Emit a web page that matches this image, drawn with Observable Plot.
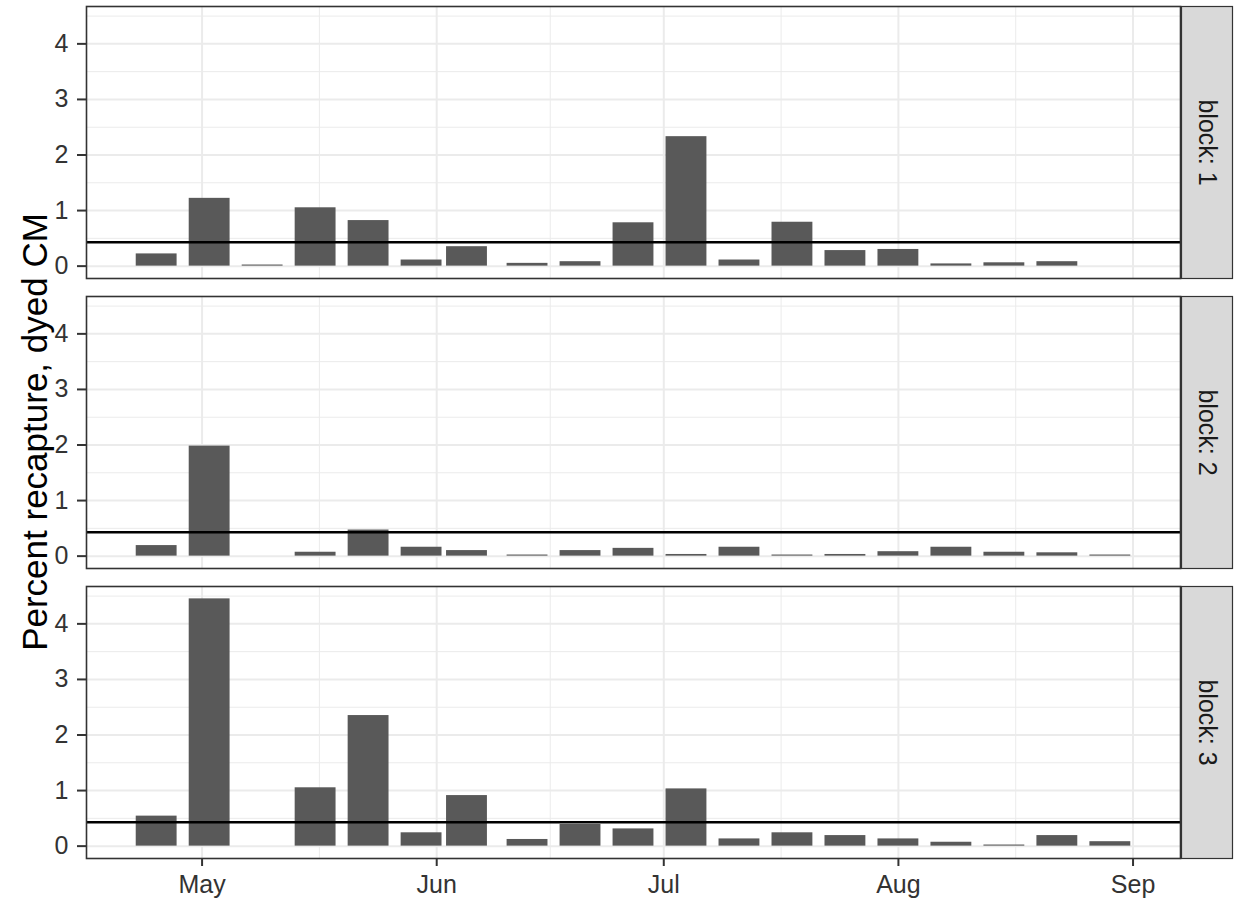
<!DOCTYPE html>
<html>
<head>
<meta charset="utf-8">
<script src="https://cdn.jsdelivr.net/npm/d3@7"></script>
<script src="https://cdn.jsdelivr.net/npm/@observablehq/plot@0.6"></script>
<style>
  html, body { margin: 0; padding: 0; background: #fff; }
  #wrap { position: relative; width: 1235px; height: 904px; font-family: "Liberation Sans", Arial, sans-serif; }
  #ytitle { position: absolute; left: 35px; top: 432px; transform: translate(-50%, -50%) rotate(-90deg); white-space: nowrap; font-size: 35px; line-height: normal; color: #000; z-index: 2; }
  svg { display: block; }
</style>
</head>
<body>
<div id="wrap"><div id="ytitle">Percent recapture, dyed CM</div></div>
<script>
// Sampling dates (weekly), values per block (percent recapture), overall mean line
const dates = ["2019-04-25","2019-05-02","2019-05-09","2019-05-16","2019-05-23","2019-05-30","2019-06-05","2019-06-13","2019-06-20","2019-06-27","2019-07-04","2019-07-11","2019-07-18","2019-07-25","2019-08-01","2019-08-08","2019-08-15","2019-08-22","2019-08-29"];
const block1 = [0.22, 1.22, 0.02, 1.05, 0.82, 0.11, 0.35, 0.05, 0.08, 0.78, 2.33, 0.11, 0.79, 0.28, 0.30, 0.04, 0.06, 0.08, null];
const block2 = [0.19, 1.98, null, 0.07, 0.47, 0.16, 0.10, 0.02, 0.10, 0.14, 0.03, 0.16, 0.02, 0.03, 0.08, 0.16, 0.07, 0.06, 0.02];
const block3 = [0.54, 4.45, null, 1.05, 2.35, 0.24, 0.91, 0.12, 0.39, 0.31, 1.03, 0.13, 0.24, 0.19, 0.13, 0.07, 0.02, 0.19, 0.08];
const blocks = [1, 2, 3];
const overallLine = [0.43];
const monthTicks = ["2019-05-01","2019-06-01","2019-07-01","2019-08-01","2019-09-01"];
const yTicks = [0, 1, 2, 3, 4];
const yMinor = [0.5, 1.5, 2.5, 3.5, 4.5];

const DAY = 864e5;
const halfWidth = 2.7 * DAY; // 0.9 * 6-day resolution / 2
const series = [block1, block2, block3];
const rows = [];
series.forEach((vals, bi) => {
  vals.forEach((v, i) => {
    if (v != null) rows.push({date: new Date(dates[i] + "T00:00:00Z"), value: v, block: blocks[bi]});
  });
});
const majorX = monthTicks.map(s => new Date(s + "T00:00:00Z"));
const minorX = majorX.slice(0, -1).map((d, i) => new Date((+d + +majorX[i + 1]) / 2));

// ggplot-like 5% expansion
const xmin = d3.min(rows, d => +d.date) - halfWidth;
const xmax = d3.max(rows, d => +d.date) + halfWidth;
const xpad = (xmax - xmin) * 0.05;
const ymax = d3.max(rows, d => d.value);
const ypad = ymax * 0.05;

const W = 1235, H = 904, ML = 86, MR = 55, MT = 5, MB = 45;
const plotW = W - ML - MR;

const chart = Plot.plot({
  width: W,
  height: H,
  marginLeft: ML,
  marginRight: MR,
  marginTop: MT,
  marginBottom: MB,
  style: {fontFamily: '"Liberation Sans", Arial, sans-serif', background: "transparent"},
  x: {type: "utc", domain: [new Date(xmin - xpad), new Date(xmax + xpad)]},
  y: {domain: [-ypad, ymax + ypad]},
  fy: {domain: blocks, axis: null, paddingInner: 0.062, paddingOuter: 0, label: null},
  marks: [
    Plot.gridY(yMinor, {stroke: "#ebebeb", strokeOpacity: 1, strokeWidth: 1}),
    Plot.gridX(minorX, {stroke: "#ebebeb", strokeOpacity: 1, strokeWidth: 1}),
    Plot.gridY(yTicks, {stroke: "#ebebeb", strokeOpacity: 1, strokeWidth: 2}),
    Plot.gridX(majorX, {stroke: "#ebebeb", strokeOpacity: 1, strokeWidth: 2}),
    Plot.rectY(rows, {
      x1: d => new Date(+d.date - halfWidth),
      x2: d => new Date(+d.date + halfWidth),
      y1: 0,
      y2: "value",
      fy: "block",
      fill: "#595959"
    }),
    Plot.ruleY(overallLine, {stroke: "#000", strokeWidth: 2.5}),
    Plot.frame({stroke: "#333", strokeWidth: 1.6}),
    Plot.frame({fill: "#d9d9d9", stroke: "#333", strokeWidth: 1.2, insetLeft: plotW + 1, insetRight: -(MR - 3)}),
    Plot.text(blocks, {fy: d => d, text: d => `block: ${d}`, frameAnchor: "right", dx: (MR - 2) / 2, rotate: 90, textAnchor: "middle", lineAnchor: "middle", fontSize: 25, fill: "#1a1a1a"}),
    Plot.axisY(yTicks, {tickSize: 9, tickPadding: 9, fontSize: 25, color: "#333", strokeWidth: 2, tickFormat: d3.format("d"), label: null}),
    Plot.axisX(majorX, {tickSize: 8, tickPadding: 9, fontSize: 25, color: "#333", strokeWidth: 2, tickFormat: d3.utcFormat("%b"), label: null})
  ]
});
document.getElementById("wrap").appendChild(chart);
</script>
</body>
</html>
